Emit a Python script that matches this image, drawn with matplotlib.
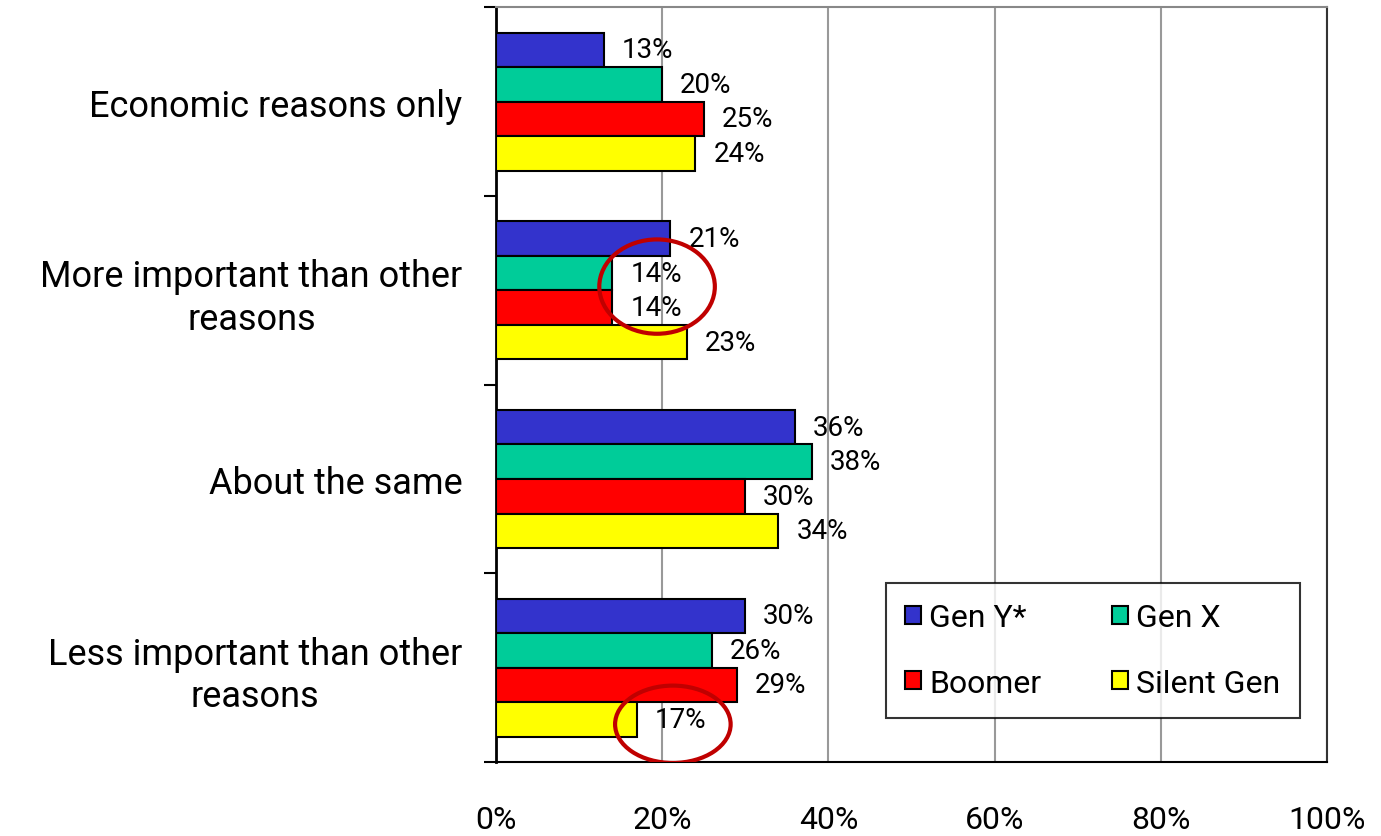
import matplotlib
matplotlib.use("Agg")

import matplotlib.pyplot as plt
from matplotlib.patches import Ellipse
from matplotlib.ticker import FixedLocator, PercentFormatter
import numpy as np

categories = ["Economic reasons only", "More important than other\nreasons",
              "About the same", "Less important than other\nreasons"]
series = ["Gen Y*", "Gen X", "Boomer", "Silent Gen"]
gen_y = [13, 21, 36, 30]
gen_x = [20, 14, 38, 26]
boomer = [25, 14, 30, 29]
silent = [24, 23, 34, 17]
colors = ["#3333CC", "#00CC99", "#FF0000", "#FFFF00"]

# red rings drawn round some labels: (x centre %, y centre, width %, height)
highlights = [(19.4, 0.98, 13.9, 0.50), (21.3, 3.30, 13.9, 0.41)]

plt.rcParams['font.family'] = ['Roboto', 'DejaVu Sans']

fig = plt.figure(figsize=(13.81, 8.37), dpi=100)
ax = fig.add_axes([0.359, 0.0884, 0.602, 0.9016])

h = 0.183
y = np.arange(len(categories))
allvals = [gen_y, gen_x, boomer, silent]
handles = []
for i, (name, vals) in enumerate(zip(series, allvals)):
    ys = y + (i - 1.5) * h
    b = ax.barh(ys, vals, height=h, color=colors[i], edgecolor="black", linewidth=1.5,
                label=name, zorder=3)
    handles.append(b)
    for yy, v in zip(ys, vals):
        ax.annotate(f"{v}%", (v, yy), xytext=(13, 0), textcoords="offset points",
                    va="center", ha="left", fontsize=20, zorder=4)

for xc, yc, w, eh in highlights:
    ax.add_patch(Ellipse((xc, yc), w, eh, fill=False, edgecolor="#C00000",
                         linewidth=3, zorder=5))

ax.set_xlim(0, 100)
ax.set_ylim(3.5, -0.5)
ax.xaxis.set_major_locator(FixedLocator([0, 20, 40, 60, 80, 100]))
ax.xaxis.set_major_formatter(PercentFormatter(decimals=0))
ax.tick_params(axis="x", length=0, pad=31, labelsize=23)
ax.set_yticks(y)
ax.set_yticklabels(categories, fontsize=26, multialignment="center", linespacing=1.22)
ax.tick_params(axis="y", which="major", length=0, pad=24)
ax.set_yticks(np.arange(-0.5, 4, 1), minor=True)
ax.tick_params(axis="y", which="minor", length=9, width=1.5, direction="out")
ax.grid(axis="x", color="#999999", linewidth=1.5, zorder=0)

ax.spines["left"].set_linewidth(2)
ax.spines["bottom"].set_linewidth(1.5)
ax.spines["right"].set_linewidth(1.5)
ax.spines["right"].set_color("#333333")
ax.spines["top"].set_color("#888888")
ax.spines["top"].set_linewidth(1.5)

# legend is filled row by row in the reference
order = [0, 2, 1, 3]
leg = ax.legend([handles[k] for k in order], [series[k] for k in order],
                loc="upper left", bbox_to_anchor=(0.469, 0.237),
                ncol=2, fontsize=23, frameon=True, fancybox=False,
                edgecolor="black", handlelength=0.5, handleheight=0.5,
                handletextpad=0.25, labelspacing=1.15, borderpad=0.62,
                borderaxespad=0, columnspacing=2.2)
leg.get_frame().set_linewidth(1.5)

fig.savefig("out.png", dpi=100)
